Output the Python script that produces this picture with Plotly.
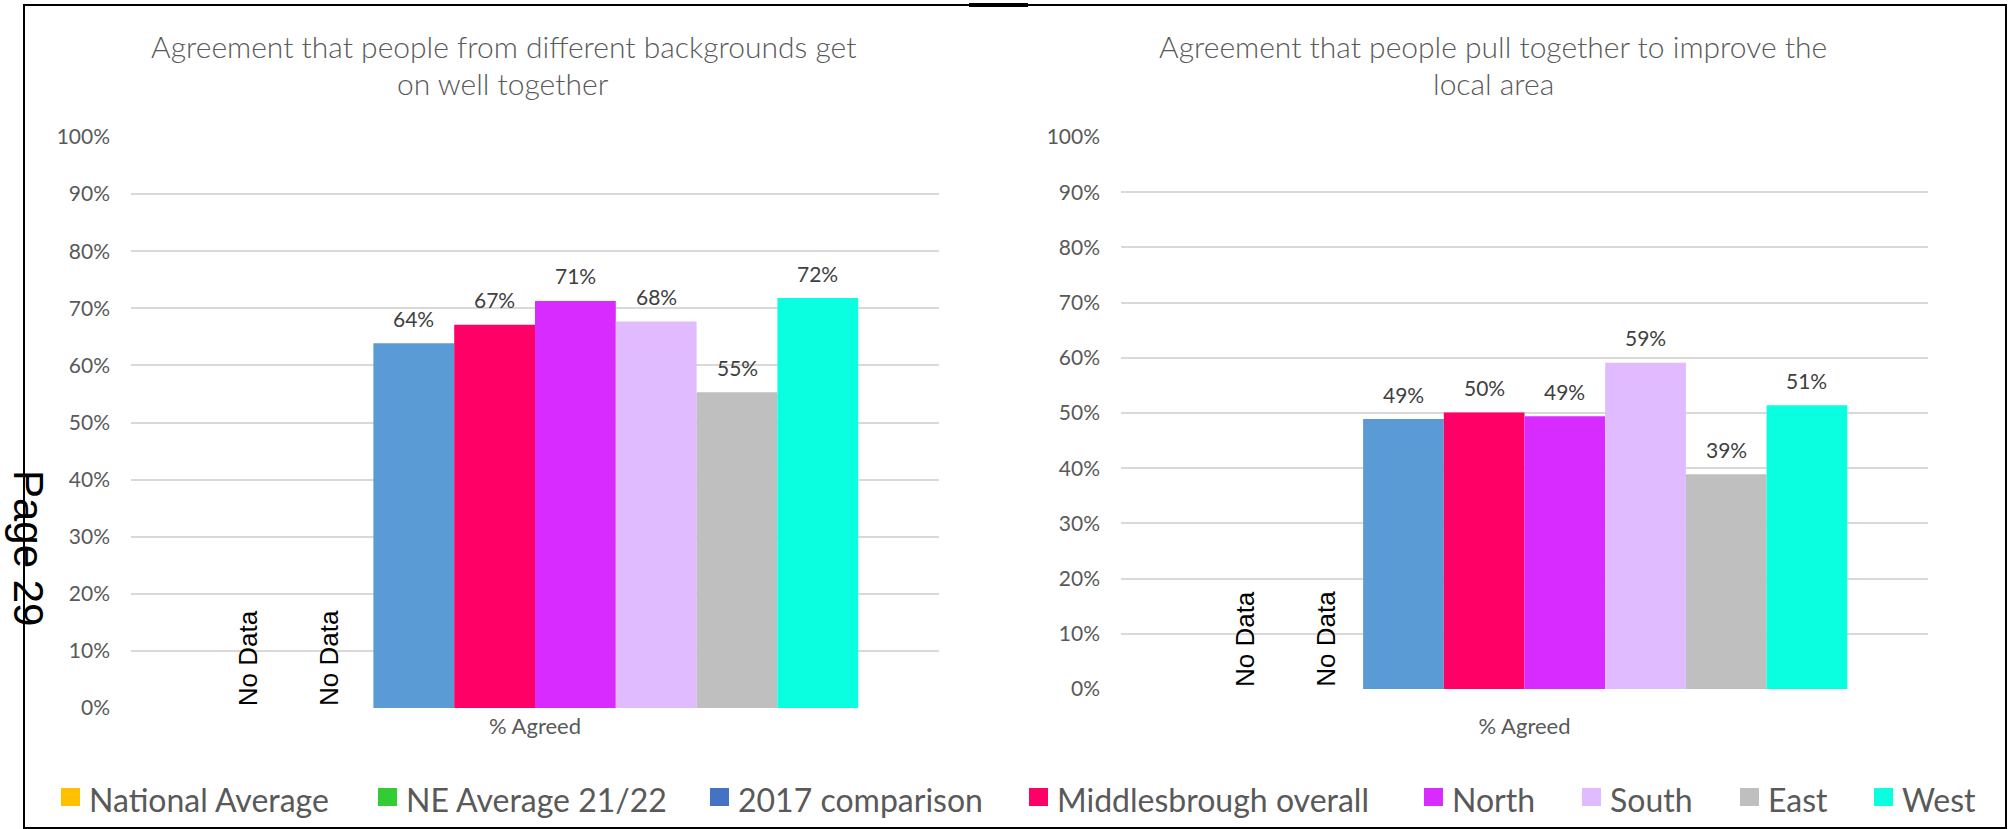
import plotly.graph_objects as go

# ---- data -------------------------------------------------------------
CATEGORY = ["% Agreed"]
SERIES = [
    "National Average",
    "NE Average 21/22",
    "2017 comparison",
    "Middlesbrough overall",
    "North",
    "South",
    "East",
    "West",
]
# share agreeing; None = no data available for that series
BACKGROUNDS_AGREE = [None, None, 0.639, 0.671, 0.713, 0.677, 0.553, 0.718]
PULL_TOGETHER_AGREE = [None, None, 0.489, 0.501, 0.494, 0.591, 0.389, 0.514]
TITLES = [
    ["Agreement that people from different backgrounds get", "on well together"],
    ["Agreement that people pull together to improve the", "local area"],
]
NO_DATA_TEXT = "No Data"
PAGE_TEXT = "Page 29"

# ---- styling ----------------------------------------------------------
BAR_COLORS = ["#FFC000", "#33CC33", "#5B9BD5", "#FF0066", "#D82BFF", "#E0BBFF", "#BFBFBF", "#0AFFE0"]
LEGEND_COLORS = ["#FFC000", "#33CC33", "#4472C4", "#FF0066", "#D82BFF", "#E0BBFF", "#BFBFBF", "#0AFFE0"]
W, H = 2015, 829
BARGAP = 0.2
FONT = "Lato"
GREY_TEXT = "#595959"
LABEL_TEXT = "#404040"
GRID = "#D9D9D9"

# plot areas in pixels: (left, right, top, bottom)
PANELS = [(131, 939, 137, 708), (1121, 1928, 137, 689)]
TITLE_CENTERS = [503, 1493]
TITLE_LINE_Y = [46, 83.5]
XLABEL_STANDOFF = [3, 22]
NO_DATA_SHIFT = [-4, 3]

# legend layout in pixels
LEGEND_SWATCH_X = [61, 378, 710, 1029, 1424, 1582, 1740, 1874]
LEGEND_Y = 797
SWATCH = 18


def px_x(x):
    return x / W


def px_y(y):
    return 1 - y / H


fig = go.Figure()
annotations = []
shapes = []

n = len(SERIES)
slot = (1 - BARGAP) / n
datasets = [BACKGROUNDS_AGREE, PULL_TOGETHER_AGREE]

for p, values in enumerate(datasets):
    xa = "x" if p == 0 else "x2"
    ya = "y" if p == 0 else "y2"
    for i, (name, v) in enumerate(zip(SERIES, values)):
        fig.add_trace(
            go.Bar(
                x=CATEGORY,
                y=[v],
                name=name,
                marker=dict(color=BAR_COLORS[i], line=dict(width=0)),
                showlegend=False,
                xaxis=xa,
                yaxis=ya,
                hovertemplate=name + ": %{y:.0%}<extra></extra>",
            )
        )
        xc = -(1 - BARGAP) / 2 + slot * (i + 0.5)
        if v is None:
            annotations.append(
                dict(
                    x=xc, y=0, xref=xa, yref=ya,
                    text=NO_DATA_TEXT, textangle=-90, showarrow=False,
                    xanchor="center", yanchor="bottom", xshift=NO_DATA_SHIFT[p],
                    font=dict(family="Liberation Sans, Arial", size=26, color="#000000"),
                )
            )
        else:
            annotations.append(
                dict(
                    x=xc, y=v, xref=xa, yref=ya,
                    text=f"{v:.0%}", showarrow=False,
                    xanchor="center", yanchor="middle", yshift=25,
                    font=dict(family=FONT, size=21, color=LABEL_TEXT),
                )
            )

# chart titles, one annotation per line
for p, lines in enumerate(TITLES):
    for line, ly in zip(lines, TITLE_LINE_Y):
        annotations.append(
            dict(
                x=px_x(TITLE_CENTERS[p]), y=px_y(ly), xref="paper", yref="paper",
                text=line, showarrow=False,
                xanchor="center", yanchor="middle",
                font=dict(family=FONT, size=30, color=GREY_TEXT, weight=300),
            )
        )

# legend (swatch + label per series)
for i, name in enumerate(SERIES):
    x0 = LEGEND_SWATCH_X[i]
    shapes.append(
        dict(
            type="rect", xref="paper", yref="paper",
            x0=px_x(x0), x1=px_x(x0 + SWATCH + 1),
            y0=px_y(LEGEND_Y - SWATCH / 2), y1=px_y(LEGEND_Y + SWATCH / 2),
            fillcolor=LEGEND_COLORS[i], line=dict(width=0),
        )
    )
    annotations.append(
        dict(
            x=px_x(x0 + SWATCH + 8), y=px_y(LEGEND_Y + 2), xref="paper", yref="paper",
            text=name, showarrow=False, xanchor="left", yanchor="middle",
            font=dict(family=FONT, size=32, color=GREY_TEXT),
        )
    )

# page number running down the left edge
annotations.append(
    dict(
        x=px_x(29), y=px_y(548), xref="paper", yref="paper",
        text=PAGE_TEXT, textangle=90, showarrow=False,
        xanchor="center", yanchor="middle",
        font=dict(family="Liberation Sans, Arial", size=42, color="#000000"),
    )
)

# outer frame
shapes.append(
    dict(
        type="rect", xref="paper", yref="paper",
        x0=px_x(24), x1=px_x(2006), y0=px_y(828), y1=px_y(5),
        line=dict(color="#000000", width=2),
    )
)
shapes.append(
    dict(
        type="line", xref="paper", yref="paper",
        x0=px_x(969), x1=px_x(1028), y0=px_y(5), y1=px_y(5),
        line=dict(color="#000000", width=4),
    )
)

axis_common_y = dict(
    range=[0, 1],
    dtick=0.1,
    tickformat=".0%",
    showgrid=True,
    gridcolor=GRID,
    gridwidth=1.5,
    zeroline=False,
    showline=False,
    ticks="",
    ticklabelstandoff=20,
    automargin=False,
    tickfont=dict(family=FONT, size=21, color=GREY_TEXT),
    fixedrange=True,
)
axis_common_x = dict(
    type="category",
    showgrid=False,
    zeroline=False,
    showline=False,
    ticks="",
    automargin=False,
    tickfont=dict(family=FONT, size=22, color=GREY_TEXT),
    fixedrange=True,
)

l0, r0, t0, b0 = PANELS[0]
l1, r1, t1, b1 = PANELS[1]
fig.update_layout(
    width=W,
    height=H,
    margin=dict(l=0, r=0, t=0, b=0, pad=0, autoexpand=False),
    paper_bgcolor="#FFFFFF",
    plot_bgcolor="#FFFFFF",
    barmode="group",
    bargap=BARGAP,
    bargroupgap=0,
    showlegend=False,
    xaxis=dict(domain=[px_x(l0), px_x(r0)], anchor="y",
               ticklabelstandoff=XLABEL_STANDOFF[0], **axis_common_x),
    yaxis=dict(domain=[px_y(b0), px_y(t0)], anchor="x", **axis_common_y),
    xaxis2=dict(domain=[px_x(l1), px_x(r1)], anchor="y2",
                ticklabelstandoff=XLABEL_STANDOFF[1], **axis_common_x),
    yaxis2=dict(domain=[px_y(b1), px_y(t1)], anchor="x2", **axis_common_y),
    annotations=annotations,
    shapes=shapes,
)

fig.write_html("out.html")
